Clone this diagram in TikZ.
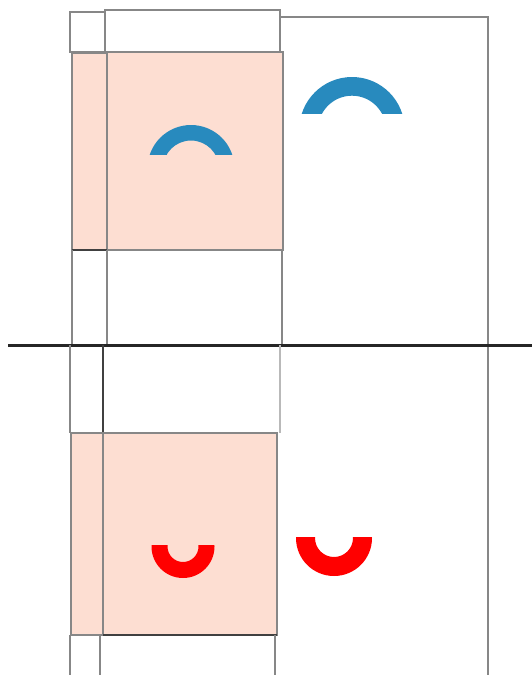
\documentclass[tikz,border=0pt]{standalone}
\definecolor{pinkfill}{RGB}{253,222,210}
\definecolor{arcblue}{RGB}{40,138,190}
\definecolor{arcred}{RGB}{255,0,0}
\definecolor{edgegray}{RGB}{135,135,135}
\definecolor{lightedge}{RGB}{185,185,185}
\newcommand{\myring}[7]{%
  \begin{scope}
    \clip (#2-#4-2,#6) rectangle (#2+#4+2,#7);
    \fill[#1, even odd rule] (#2,#3) circle[radius=#4pt] (#2,#3) circle[radius=#5pt];
  \end{scope}}
\begin{document}
\begin{tikzpicture}[x=1pt,y=-1pt,
  frame/.style={draw=edgegray, line width=2.2pt},
  lightframe/.style={draw=lightedge, line width=2.2pt},
  darkline/.style={draw=black!75, line width=2.2pt},
  pinkbox/.style={fill=pinkfill, draw=edgegray, line width=2.2pt}]
\useasboundingbox[fill=white] (0,0) rectangle (532,675);
% right big box
\draw[frame] (280,17) -- (488,17) -- (488,675);
% upper stack
\draw[frame] (70,12) rectangle (105,52);
\draw[frame] (105,10) rectangle (280,52);
\draw[pinkbox] (72,53) rectangle (107,250);
\draw[pinkbox] (107,52) rectangle (283,250);
\draw[darkline] (72,250) -- (107,250);
\draw[frame] (72,250) -- (72,345);
\draw[frame] (107,250) -- (107,345);
\draw[frame] (282,250) -- (282,345);
% divider
\draw[line width=3pt, black!85] (8,345) -- (532,345);
% lower stack
\draw[frame] (70,345) -- (70,433);
\draw[darkline] (103,345) -- (103,433);
\draw[lightframe] (280,345) -- (280,433);
\draw[pinkbox] (71,433) rectangle (103,635);
\draw[pinkbox] (103,433) rectangle (277,635);
\draw[darkline] (103,635) -- (277,635);
\draw[frame] (70,635) -- (70,675);
\draw[frame] (100,635) -- (100,675);
\draw[frame] (275,635) -- (275,675);
% arcs
\myring{arcblue}{191}{168.5}{43.5}{28}{100}{154}
\myring{arcblue}{352}{129.7}{52.7}{34}{60}{113}
\myring{arcred}{183}{546.5}{31.5}{15.5}{545}{600}
\myring{arcred}{334}{538}{38}{19}{537}{600}
\end{tikzpicture}
\end{document}
